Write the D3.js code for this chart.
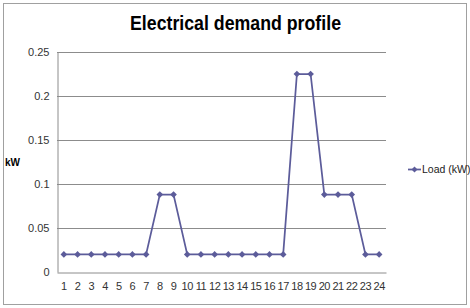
<!DOCTYPE html>
<html><head><meta charset="utf-8">
<script src="https://cdn.jsdelivr.net/npm/d3@7"></script>
<style>body{margin:0;background:#fff}svg{display:block}text{font-family:"Liberation Sans",Arial,sans-serif}</style>
</head><body><svg id="c" width="470" height="308"></svg>
<script>
const hours = ["1","2","3","4","5","6","7","8","9","10","11","12","13","14","15","16","17","18","19","20","21","22","23","24"];
const load = [0.02,0.02,0.02,0.02,0.02,0.02,0.02,0.088,0.088,0.02,0.02,0.02,0.02,0.02,0.02,0.02,0.02,0.225,0.225,0.088,0.088,0.088,0.02,0.02];
const yTicks = [0,0.05,0.1,0.15,0.2,0.25];
const yTickLabels = ["0","0.05","0.1","0.15","0.2","0.25"];
const seriesName = "Load (kW)";
const titleText = "Electrical demand profile";
const yTitle = "kW";

const svg = d3.select("#c");
const lineColor = "#5c5c9a";
svg.append("rect").attr("x",3.5).attr("y",3.5).attr("width",463).attr("height",301)
  .attr("fill","#fff").attr("stroke","#a0a0a0").attr("stroke-width",1);

const L=57, R=386, T=52, B=272;
const x = d3.scaleBand().domain(hours).range([L,R]);
const y = d3.scaleLinear().domain([0,0.25]).range([B,T]);

// gridlines
svg.append("g").selectAll("line").data(yTicks.filter(d=>d>0)).join("line")
  .attr("x1",L).attr("x2",R).attr("y1",d=>Math.round(y(d))+0.5).attr("y2",d=>Math.round(y(d))+0.5)
  .attr("stroke","#8c8c8c").attr("stroke-width",1);

// axes
const yAxis = d3.axisLeft(y).tickValues(yTicks).tickFormat((d,i)=>yTickLabels[i]).tickSize(0).tickPadding(8);
const gy = svg.append("g").attr("transform",`translate(${L+0.5},0)`).call(yAxis);
gy.select(".domain").attr("stroke","#8c8c8c");
gy.selectAll("text").attr("font-size",11).attr("fill","#333");

const xAxis = d3.axisBottom(x).tickSize(0).tickPadding(10);
const gx = svg.append("g").attr("transform",`translate(0,${B+0.5})`).call(xAxis);
gx.select(".domain").attr("stroke","#8c8c8c");
gx.selectAll("text").attr("font-size",11).attr("fill","#333").attr("letter-spacing","-0.5");

// line
const line = d3.line().x((d,i)=>x(hours[i])+x.bandwidth()/2).y(d=>y(d));
svg.append("path").datum(load).attr("d",line).attr("fill","none").attr("stroke",lineColor).attr("stroke-width",1.75);
svg.append("g").selectAll("path").data(load).join("path")
  .attr("transform",(d,i)=>`translate(${x(hours[i])+x.bandwidth()/2},${y(d)}) rotate(45)`)
  .attr("d",d3.symbol().type(d3.symbolSquare).size(22)).attr("fill",lineColor);

// title
svg.append("text").attr("x",130).attr("y",30)
  .attr("font-size",20).attr("font-weight","bold").attr("fill","#000")
  .attr("textLength",211).attr("lengthAdjust","spacingAndGlyphs").text(titleText);

// y title
svg.append("text").attr("x",5).attr("y",166).attr("font-size",10).attr("font-weight","bold").attr("fill","#000").text(yTitle);

// legend
svg.append("line").attr("x1",408).attr("x2",421).attr("y1",169.5).attr("y2",169.5).attr("stroke",lineColor).attr("stroke-width",1.75);
svg.append("path").attr("transform","translate(414.5,169.5) rotate(45)").attr("d",d3.symbol().type(d3.symbolSquare).size(18)).attr("fill",lineColor);
svg.append("text").attr("x",422).attr("y",173).attr("font-size",10.5).attr("fill","#222").text(seriesName);
</script></body></html>
